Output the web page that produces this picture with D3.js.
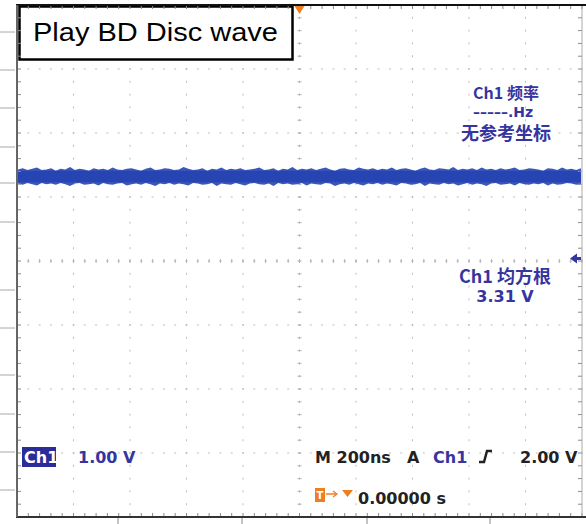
<!DOCTYPE html>
<html><head><meta charset="utf-8">
<script src="https://cdn.jsdelivr.net/npm/d3@7"></script>
<style>
html,body{margin:0;padding:0;background:#fff;}
svg{display:block;}
</style></head>
<body>
<script>
// ---- data ----
const title = "Play BD Disc wave";
const timeDomainNs = [-1000, 1000];      // 200 ns/div, 10 divisions
const voltDomain = [-4, 4];              // 1.00 V/div, 8 divisions
const traceHi = [
1.43,1.45,1.42,1.44,1.46,1.42,1.43,1.45,1.41,1.44,
1.43,1.47,1.42,1.44,1.43,1.41,1.45,1.43,1.44,1.42,
1.46,1.43,1.42,1.44,1.45,1.43,1.41,1.44,1.46,1.42,
1.43,1.45,1.44,1.42,1.43,1.47,1.44,1.42,1.43,1.45,
1.41,1.44,1.43,1.46,1.42,1.44,1.43,1.45,1.42,1.43,
1.44,1.46,1.42,1.43,1.45,1.41,1.44,1.43,1.47,1.42,
1.44,1.43,1.45,1.42,1.44,1.46,1.43,1.41,1.44,1.45,
1.43,1.42,1.46,1.44,1.43,1.45,1.42,1.44,1.43,1.46,
1.42,1.44,1.45,1.43,1.41,1.44,1.46,1.43,1.42,1.45,
1.44,1.43,1.47,1.42,1.44,1.43,1.45,1.42,1.46,1.43,
1.44,1.42,1.45,1.43,1.44,1.46,1.42,1.43,1.45,1.44,
1.43,1.41,1.45,1.44,1.42,1.46,1.43,1.44,1.42,1.45];
const traceLo = [
1.21,1.19,1.22,1.20,1.18,1.22,1.20,1.21,1.19,1.22,
1.20,1.17,1.21,1.22,1.19,1.20,1.21,1.18,1.22,1.20,
1.19,1.21,1.22,1.18,1.20,1.21,1.19,1.22,1.20,1.17,
1.21,1.20,1.22,1.19,1.21,1.20,1.18,1.22,1.21,1.19,
1.20,1.22,1.17,1.21,1.20,1.19,1.22,1.20,1.18,1.21,
1.22,1.20,1.19,1.21,1.17,1.22,1.20,1.21,1.19,1.20,
1.22,1.18,1.21,1.20,1.19,1.22,1.21,1.17,1.20,1.21,
1.19,1.22,1.20,1.18,1.21,1.20,1.22,1.19,1.21,1.20,
1.18,1.22,1.21,1.19,1.20,1.22,1.17,1.21,1.20,1.19,
1.22,1.20,1.21,1.18,1.20,1.22,1.19,1.21,1.20,1.17,
1.21,1.22,1.19,1.20,1.21,1.18,1.22,1.20,1.19,1.21,
1.20,1.22,1.18,1.21,1.19,1.20,1.22,1.21,1.19,1.20];
const traceCore = [1.23, 1.41];
const freqLines = ["Ch1 频率", "–––––.Hz", "无参考坐标"];
const rmsLines = ["Ch1 均方根", "3.31 V"];
const chLabel = "Ch1", chScale = "1.00 V";
const timebase = "M 200ns", trigMode = "A", trigSrc = "Ch1", trigLevel = "2.00 V";
const trigPos = "0.00000 s";
const trigLevelMarkerV = 0.04;
const outsideRowsY = [32, 70, 108, 147, 183, 222, 290, 328, 375, 414, 452, 490];
const outsideColsX = [118, 242, 367, 490];

// ---- layout ----
const W = 586, H = 524;
const L = 17, R = 582, T = 5, B = 517;
const blue = "#3535a0", traceBlue = "#2745b2", orange = "#ef7d22", ink = "#222";
const svg = d3.select("body").append("svg").attr("width", W).attr("height", H);

const x = d3.scaleLinear().domain(timeDomainNs).range([L, R]);
const y = d3.scaleLinear().domain(voltDomain).range([B, T]);

// outside decorations
svg.append("g").selectAll("line").data(outsideRowsY).join("line")
  .attr("x1", 0).attr("x2", L - 2).attr("y1", d => d).attr("y2", d => d)
  .attr("stroke", "#a8a8a8").attr("stroke-width", 1);
svg.append("g").selectAll("line").data(outsideColsX).join("line")
  .attr("x1", d => d).attr("x2", d => d).attr("y1", B).attr("y2", H)
  .attr("stroke", "#888").attr("stroke-width", 1);

// graticule dots
const majorX = d3.range(-1000, 1001, 200);
const majorY = d3.range(-4, 4.001, 1);
const minorX = d3.range(-1000, 1000.1, 40);
const minorY = d3.range(-4, 4.0001, 0.2);
const grid = svg.append("g");
majorX.filter(v => v > -1000 && v < 1000).forEach(v => {
  grid.selectAll(null).data(minorY).join("rect")
    .attr("x", x(v) - 0.5).attr("y", d => y(d) - 1)
    .attr("width", 1).attr("height", 2).attr("fill", v === 0 ? "#a5a5a5" : "#bdbdbd");
});
majorY.filter(v => v > -4 && v < 4).forEach(v => {
  grid.selectAll(null).data(minorX).join("rect")
    .attr("x", d => x(d) - 1).attr("y", y(v) - 0.5)
    .attr("width", 2).attr("height", 1).attr("fill", v === 0 ? "#a5a5a5" : "#bdbdbd");
});
grid.selectAll(null).data(minorY).join("line")
  .attr("x1", x(0) - 2).attr("x2", x(0) + 2).attr("y1", d => y(d)).attr("y2", d => y(d))
  .attr("stroke", "#b5b5b5");
grid.selectAll(null).data(minorX).join("line")
  .attr("y1", y(0) - 2).attr("y2", y(0) + 2).attr("x1", d => x(d)).attr("x2", d => x(d))
  .attr("stroke", "#b5b5b5");

// trace (noise envelope)
const xi = d3.scaleLinear().domain([0, traceHi.length - 1]).range([L + 1, R - 1]);
svg.append("rect")
  .attr("x", L + 1).attr("y", y(traceCore[1]))
  .attr("width", R - L - 2).attr("height", y(traceCore[0]) - y(traceCore[1]))
  .attr("fill", traceBlue);
svg.append("path").datum(traceHi.map((h, i) => [i, h, traceLo[i]]))
  .attr("d", d3.area().x(d => xi(d[0])).y0(d => y(d[2])).y1(d => y(d[1])))
  .attr("fill", traceBlue).attr("opacity", 0.9);

// title box
svg.append("rect").attr("x", 19.5).attr("y", 6.5).attr("width", 273).attr("height", 53)
  .attr("fill", "#fff").attr("stroke", "#000").attr("stroke-width", 2.5);
svg.append("text").attr("x", 33).attr("y", 41)
  .attr("font-family", "Liberation Sans, Arial, sans-serif").attr("font-size", 26)
  .attr("textLength", 245).attr("lengthAdjust", "spacingAndGlyphs")
  .attr("fill", "#000").text(title);

// border ticks
const ticks = svg.append("g").attr("stroke", "#8a8a8a").attr("stroke-width", 1);
ticks.selectAll(null).data(minorX).join("line")
  .attr("x1", d => x(d)).attr("x2", d => x(d)).attr("y1", T).attr("y2", T + 4);
ticks.selectAll(null).data(minorX).join("line")
  .attr("x1", d => x(d)).attr("x2", d => x(d)).attr("y1", B - 4).attr("y2", B);
ticks.selectAll(null).data(minorY).join("line")
  .attr("x1", L).attr("x2", L + 4).attr("y1", d => y(d)).attr("y2", d => y(d));
ticks.selectAll(null).data(minorY).join("line")
  .attr("x1", R - 4).attr("x2", R).attr("y1", d => y(d)).attr("y2", d => y(d));

// borders
svg.append("line").attr("x1", R).attr("x2", R).attr("y1", T).attr("y2", B)
  .attr("stroke", "#aaa").attr("stroke-width", 1);
svg.append("line").attr("x1", L - 1).attr("x2", W).attr("y1", T).attr("y2", T)
  .attr("stroke", "#111").attr("stroke-width", 2);
svg.append("line").attr("x1", L - 1).attr("x2", W).attr("y1", B).attr("y2", B)
  .attr("stroke", "#333").attr("stroke-width", 2);
svg.append("line").attr("x1", L).attr("x2", L).attr("y1", T).attr("y2", B)
  .attr("stroke", "#666").attr("stroke-width", 2);

// trigger position marker (top) and trigger level marker (right)
svg.append("path")
  .attr("d", `M${x(0) - 5},${T + 1} L${x(0) + 5},${T + 1} L${x(0)},${T + 9} Z`)
  .attr("fill", orange);
const ty = y(trigLevelMarkerV);
svg.append("path")
  .attr("d", `M${R - 12},${ty} L${R - 5},${ty - 5} L${R - 5},${ty + 5} Z M${R - 6},${ty - 1.5} L${R - 1},${ty - 1.5} L${R - 1},${ty + 1.5} L${R - 6},${ty + 1.5} Z`)
  .attr("fill", blue);

// readouts
const bold = "DejaVu Sans, Verdana, sans-serif";
const cjk = "Noto Sans CJK SC, DejaVu Sans, sans-serif";
const fr = svg.append("g").attr("text-anchor", "middle").attr("font-weight", "bold").attr("fill", blue);
fr.append("text").attr("x", 506).attr("y", 99).attr("font-family", cjk).attr("font-size", 16).text(freqLines[0]);
fr.append("text").attr("x", 503).attr("y", 117).attr("font-family", bold).attr("font-size", 14).text(freqLines[1]);
fr.append("text").attr("x", 506).attr("y", 140).attr("font-family", cjk).attr("font-size", 18).text(freqLines[2]);
fr.append("text").attr("x", 505).attr("y", 283).attr("font-family", cjk).attr("font-size", 18).text(rmsLines[0]);
fr.append("text").attr("x", 505).attr("y", 302).attr("font-family", bold).attr("font-size", 16).text(rmsLines[1]);

const bl = svg.append("g").attr("font-family", bold).attr("font-weight", "bold").attr("font-size", 16);
bl.append("rect").attr("x", 22).attr("y", 447).attr("width", 34).attr("height", 20).attr("fill", "#2c2c98");
bl.append("text").attr("x", 24).attr("y", 463).attr("fill", "#fff").text(chLabel);
bl.append("text").attr("x", 78).attr("y", 463).attr("fill", blue).text(chScale);
bl.append("text").attr("x", 315).attr("y", 463).attr("fill", ink).text(timebase);
bl.append("text").attr("x", 407).attr("y", 463).attr("fill", ink).text(trigMode);
bl.append("text").attr("x", 433).attr("y", 463).attr("fill", blue).text(trigSrc);
bl.append("path").attr("d", "M479,462 L484,462 L487,451 L492,451")
  .attr("fill", "none").attr("stroke", ink).attr("stroke-width", 2.5);
bl.append("text").attr("x", 520).attr("y", 463).attr("fill", ink).text(trigLevel);

// trigger position readout
bl.append("rect").attr("x", 315).attr("y", 488).attr("width", 10).attr("height", 14).attr("fill", orange);
bl.append("text").attr("x", 320).attr("y", 499).attr("text-anchor", "middle").attr("font-size", 10).attr("fill", "#fff").text("T");
bl.append("line").attr("x1", 326).attr("x2", 336).attr("y1", 494).attr("y2", 494).attr("stroke", orange).attr("stroke-width", 1.5);
bl.append("path").attr("d", "M333,491 L337,494 L333,497").attr("fill", "none").attr("stroke", orange).attr("stroke-width", 1.2);
bl.append("path").attr("d", "M342,490 L353,490 L347.5,497 Z").attr("fill", orange);
bl.append("text").attr("x", 358).attr("y", 504).attr("fill", ink).text(trigPos);
</script>
</body></html>
